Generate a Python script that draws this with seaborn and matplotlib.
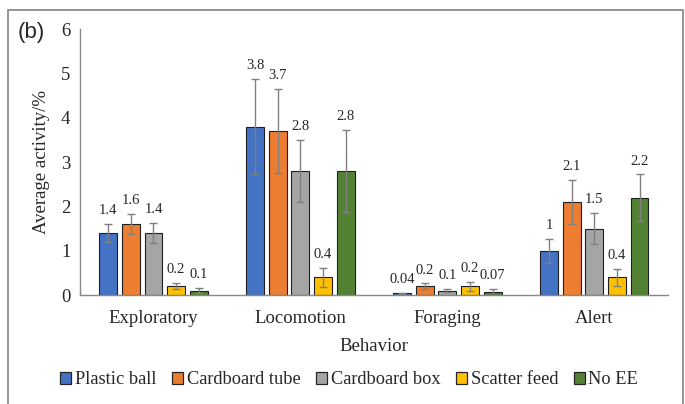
import matplotlib
matplotlib.use('Agg')
import matplotlib.pyplot as plt
import matplotlib.patches as mpatches
import seaborn as sns
import pandas as pd

# values
behaviors = ['Exploratory', 'Locomotion', 'Foraging', 'Alert']
groups = ['Plastic ball', 'Cardboard tube', 'Cardboard box', 'Scatter feed', 'No EE']

plastic_ball = [1.4, 3.8, 0.04, 1.0]
cardboard_tube = [1.6, 3.7, 0.2, 2.1]
cardboard_box = [1.4, 2.8, 0.1, 1.5]
scatter_feed = [0.2, 0.4, 0.2, 0.4]
no_ee = [0.1, 2.8, 0.07, 2.2]

plastic_ball_err = [0.2, 1.08, 0.01, 0.27]
cardboard_tube_err = [0.23, 0.95, 0.06, 0.5]
cardboard_box_err = [0.22, 0.7, 0.035, 0.35]
scatter_feed_err = [0.07, 0.21, 0.1, 0.19]
no_ee_err = [0.06, 0.92, 0.06, 0.52]

value_labels = [
    ['1.4', '3.8', '0.04', '1'],
    ['1.6', '3.7', '0.2', '2.1'],
    ['1.4', '2.8', '0.1', '1.5'],
    ['0.2', '0.4', '0.2', '0.4'],
    ['0.1', '2.8', '0.07', '2.2'],
]

colors = ['#4472C4', '#ED7D31', '#A5A5A5', '#FFC000', '#548235']

means = [plastic_ball, cardboard_tube, cardboard_box, scatter_feed, no_ee]
errs = [plastic_ball_err, cardboard_tube_err, cardboard_box_err, scatter_feed_err, no_ee_err]

rows = []
for g, vals in zip(groups, means):
    for b, v in zip(behaviors, vals):
        rows.append({'Behavior': b, 'Group': g, 'Value': v})
df = pd.DataFrame(rows)

sns.set_style('white')
plt.rcParams['font.family'] = ['Liberation Serif', 'DejaVu Serif']

fig = plt.figure(figsize=(6.85, 4.04), dpi=100)
ax = fig.add_axes([0.1168, 0.2698, 0.858, 0.658])

sns.barplot(data=df, x='Behavior', y='Value', hue='Group', order=behaviors,
            hue_order=groups, palette=colors, saturation=1, width=0.77, gap=0.21,
            errorbar=None, edgecolor='#1f1f1f', linewidth=0.8, ax=ax, legend=False)

# error bars and value labels from the bar patches
for container, err, labels in zip(ax.containers, errs, value_labels):
    for bar, e, lab in zip(container, err, labels):
        x = bar.get_x() + bar.get_width() / 2
        h = bar.get_height()
        ax.errorbar(x, h, yerr=e, fmt='none', ecolor='#808080', elinewidth=1,
                    capsize=3, capthick=1)
        ax.annotate(lab, (x, h + e), xytext=(0, 5), textcoords='offset points',
                    ha='center', va='bottom', fontsize=10.5, color='#262626')

ax.set_ylim(0, 6)
ax.set_xlim(-0.5, 3.5)
ax.set_yticks(range(0, 7))
ax.set_xticks([-0.5, 0.5, 1.5, 2.5, 3.5])
ax.set_xticklabels([])
ax.set_xticks(range(4), minor=True)
ax.set_xticklabels(behaviors, minor=True, fontsize=13.5)
ax.tick_params(axis='x', which='major', length=6, color='#888888', width=1)
ax.tick_params(axis='x', which='minor', length=0, pad=11)
ax.tick_params(axis='y', length=5, color='#888888', width=1, labelsize=13.5, pad=2)

for s in ['top', 'right']:
    ax.spines[s].set_visible(False)
for s in ['left', 'bottom']:
    ax.spines[s].set_color('#888888')
    ax.spines[s].set_linewidth(1)

ax.set_xlabel('Behavior', fontsize=13.5, labelpad=8)
ax.set_ylabel('Average activity/%', fontsize=13.5, labelpad=8)

fig.text(0.026, 0.905, '(b)', fontsize=16, family='Liberation Sans')

handles = [mpatches.Patch(facecolor=c, edgecolor='#262626', linewidth=0.9) for c in colors]
fig.legend(handles, groups, loc='center', bbox_to_anchor=(0.51, 0.06), ncol=5,
           frameon=False, fontsize=13.2, handlelength=0.6, handleheight=0.6,
           handletextpad=0.2, columnspacing=0.85)

# outer frame
fig.patches.append(mpatches.Rectangle((8 / 685, -0.02), 675 / 685, 1.02 - 10 / 404,
                                      transform=fig.transFigure, fill=False,
                                      edgecolor='#8c8c8c', linewidth=1.3))

fig.savefig('out.png', dpi=100)
